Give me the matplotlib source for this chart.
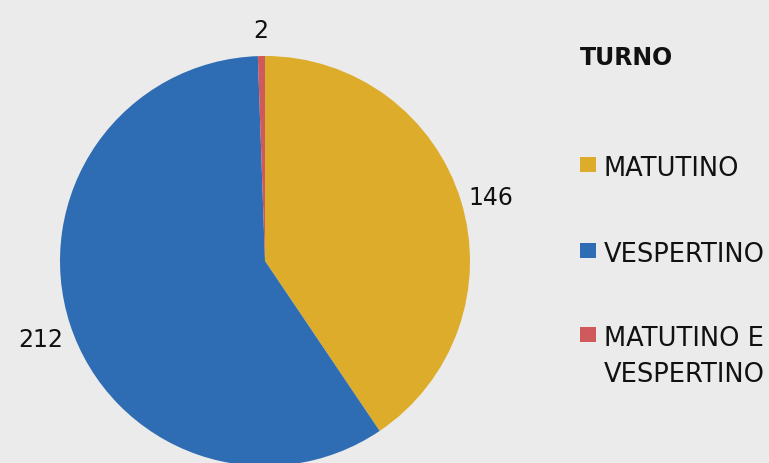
import matplotlib.pyplot as plt
from matplotlib.patches import Rectangle

# data
categories = ["MATUTINO", "VESPERTINO", "MATUTINO E\nVESPERTINO"]
values = [146, 212, 2]
colors = ["#DDAC2A", "#2E6CB3", "#CF5A5C"]
legend_title = "TURNO"

bg = "#EBEBEB"
W, H = 769, 464
fig = plt.figure(figsize=(W / 100, H / 100), dpi=100, facecolor=bg)

# axes covering the whole figure, 1 data unit = 205 px, pie centre at (265, 262) px
R = 205.0
cx, cy = 265.0, 262.0
ax = fig.add_axes([0, 0, 1, 1])
ax.set_facecolor(bg)
ax.pie(values, colors=colors, startangle=90, counterclock=False,
       labels=[str(v) for v in values], labeldistance=1.15,
       textprops=dict(fontsize=17, color="#111111"),
       wedgeprops=dict(linewidth=0))
for t in ax.texts:
    t.set_ha("center")
    t.set_va("center")
    x, y = t.get_position()
    t.set_position((x, y - 5 / R))   # nudge down a few px like the original
ax.set_aspect("auto")
ax.set_xlim(-cx / R, (W - cx) / R)
ax.set_ylim(-(H - cy) / R, cy / R)
ax.axis("off")

# legend drawn by hand in pixel coords
def px(x, y):
    return x / W, 1 - y / H

fig.text(*px(580, 58), legend_title, fontsize=17, fontweight="bold",
         color="#111111", ha="left", va="center")
base = [176, 262, 346]      # baseline of first line of each entry
for cat, col, b in zip(categories, colors, base):
    x0, y0 = px(580, b - 3)
    fig.add_artist(Rectangle((x0, y0), 16 / W, 15 / H, transform=fig.transFigure,
                             facecolor=col, edgecolor="none"))
    for i, line in enumerate(cat.split("\n")):
        fig.text(*px(604, b + 36 * i), line, fontsize=18.5, color="#111111",
                 ha="left", va="baseline")

fig.savefig("out.png", dpi=100, facecolor=bg)
